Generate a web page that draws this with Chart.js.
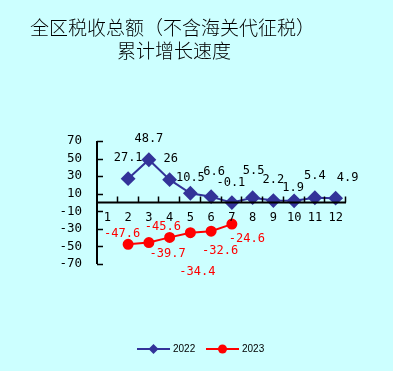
<!DOCTYPE html>
<html>
<head>
<meta charset="utf-8">
<script src="https://cdn.jsdelivr.net/npm/chart.js@4.4.1/dist/chart.umd.min.js"></script>
<style>
  body { margin: 0; background: #CCFFFF; }
  #wrap { position: relative; width: 393px; height: 371px; }
  .title { position: absolute; font-family: "Noto Sans CJK SC", sans-serif; font-size: 19px; font-weight: 300; color: #000; white-space: nowrap; line-height: 20px; }
  #t1 { left: 30px; top: 17px; }
  #t2 { left: 117px; top: 40px; }
  canvas { position: absolute; left: 0; top: 0; }
</style>
</head>
<body>
<div id="wrap">
  <canvas id="taxChart" width="393" height="371"></canvas>
  <div class="title" id="t1">全区税收总额（不含海关代征税）</div>
  <div class="title" id="t2">累计增长速度</div>
</div>
<script>
/* --------------- Data --------------------- */
const months = ["1", "2", "3", "4", "5", "6", "7", "8", "9", "10", "11", "12"];
const growth2022 = [null, 27.1, 48.7, 26, 10.5, 6.6, -0.1, 5.5, 2.2, 1.9, 5.4, 4.9];
const growth2023 = [null, -47.6, -45.6, -39.7, -34.4, -32.6, -24.6];
const yTicks = [-70, -50, -30, -10, 10, 30, 50, 70];

/* --------------- Label placement (px offsets from each point) --------------------- */
const shift2022 = [null, [0, -21], [0, -21], [1, -21], [0, -15], [3, -25], [-1, -20], [1, -27], [0, -21], [-1, -13], [0, -22], [12, -20]];
const shift2023 = [null, [-6, -10], [14, -16], [-2, 16], [7, 39], [9, 20], [15, 15]];

const monoFont = '12px "DejaVu Sans Mono", monospace';

// axes, value labels and legend are drawn here
const decorate = {
  id: "decorate",
  afterDatasetsDraw(chart) {
    const ctx = chart.ctx;
    const xs = chart.scales.x;
    const ys = chart.scales.y;
    const area = chart.chartArea;
    const y0 = ys.getPixelForValue(0);
    const top = ys.getPixelForValue(70);
    const bottom = ys.getPixelForValue(-70);
    ctx.save();
    ctx.strokeStyle = "#000";
    ctx.lineWidth = 2;
    // y axis
    ctx.beginPath();
    ctx.moveTo(area.left, top);
    ctx.lineTo(area.left, bottom);
    ctx.stroke();
    ctx.lineWidth = 1.5;
    yTicks.forEach(v => {
      const py = Math.round(ys.getPixelForValue(v)) + 0.5;
      ctx.beginPath();
      ctx.moveTo(area.left, py);
      ctx.lineTo(area.left + 6, py);
      ctx.stroke();
    });
    // x axis
    ctx.lineWidth = 2;
    ctx.beginPath();
    ctx.moveTo(area.left, y0);
    ctx.lineTo(area.right, y0);
    ctx.stroke();
    ctx.lineWidth = 1.5;
    const step = (area.right - area.left) / months.length;
    for (let k = 1; k <= months.length; k++) {
      const px = Math.round(area.left + k * step) - 0.5;
      ctx.beginPath();
      ctx.moveTo(px, y0);
      ctx.lineTo(px, y0 - 6);
      ctx.stroke();
    }
    ctx.font = monoFont;
    ctx.fillStyle = "#000";
    ctx.textAlign = "center";
    ctx.textBaseline = "middle";
    months.forEach((m, i) => {
      ctx.fillText(m, xs.getPixelForValue(i), y0 + 15);
    });
    // value labels
    const sets = [[0, shift2022, "#000"], [1, shift2023, "#FF0000"]];
    sets.forEach(([di, shift, color]) => {
      const meta = chart.getDatasetMeta(di);
      const vals = chart.data.datasets[di].data;
      ctx.fillStyle = color;
      meta.data.forEach((pt, i) => {
        if (vals[i] === null || vals[i] === undefined) return;
        const s = shift[i] || [0, -18];
        ctx.fillText(String(vals[i]), pt.x + s[0], pt.y + s[1]);
      });
    });
    // legend
    const legendY = 349;
    const legendX = [137, 206];
    ctx.font = '10px "Liberation Sans", Arial, sans-serif';
    ctx.textAlign = "left";
    chart.data.datasets.forEach((ds, i) => {
      const lx = legendX[i];
      ctx.strokeStyle = ds.borderColor;
      ctx.lineWidth = 2;
      ctx.beginPath();
      ctx.moveTo(lx, legendY);
      ctx.lineTo(lx + 33, legendY);
      ctx.stroke();
      ctx.fillStyle = ds.pointBackgroundColor;
      ctx.beginPath();
      if (ds.pointStyle === "rectRot") {
        const r = 5;
        ctx.moveTo(lx + 16.5, legendY - r);
        ctx.lineTo(lx + 16.5 + r, legendY);
        ctx.lineTo(lx + 16.5, legendY + r);
        ctx.lineTo(lx + 16.5 - r, legendY);
        ctx.closePath();
      } else {
        ctx.arc(lx + 16.5, legendY, 4.5, 0, Math.PI * 2);
      }
      ctx.fill();
      ctx.fillStyle = "#000";
      ctx.fillText(ds.label, lx + 36, legendY + 0.5);
    });
    ctx.restore();
  }
};

new Chart(document.getElementById("taxChart"), {
  type: "line",
  plugins: [decorate],
  data: {
    labels: months,
    datasets: [
      {
        label: "2022",
        data: growth2022,
        borderColor: "#333399",
        backgroundColor: "#333399",
        pointBackgroundColor: "#333399",
        pointBorderColor: "#333399",
        pointStyle: "rectRot",
        pointRadius: 6,
        borderWidth: 2,
      },
      {
        label: "2023",
        data: growth2023,
        borderColor: "#FF0000",
        backgroundColor: "#FF0000",
        pointBackgroundColor: "#FF0000",
        pointBorderColor: "#FF0000",
        pointStyle: "circle",
        pointRadius: 4.5,
        borderWidth: 2,
      },
    ],
  },
  options: {
    responsive: false,
    animation: false,
    layout: { padding: { top: 141, right: 47, bottom: 107, left: 0 } },
    plugins: {
      legend: { display: false },
      tooltip: { enabled: false },
      title: { display: false },
    },
    scales: {
      x: {
        display: false,
        offset: true,
      },
      y: {
        min: -70,
        max: 70,
        afterFit: (scale) => { scale.width = 97; },
        afterBuildTicks: (scale) => { scale.ticks = yTicks.map(v => ({ value: v })); },
        grid: { display: false },
        border: { display: false },
        ticks: {
          autoSkip: false,
          padding: 7,
          color: "#000",
          font: { family: '"DejaVu Sans Mono", monospace', size: 12.5 },
        },
      },
    },
  },
});
</script>
</body>
</html>
